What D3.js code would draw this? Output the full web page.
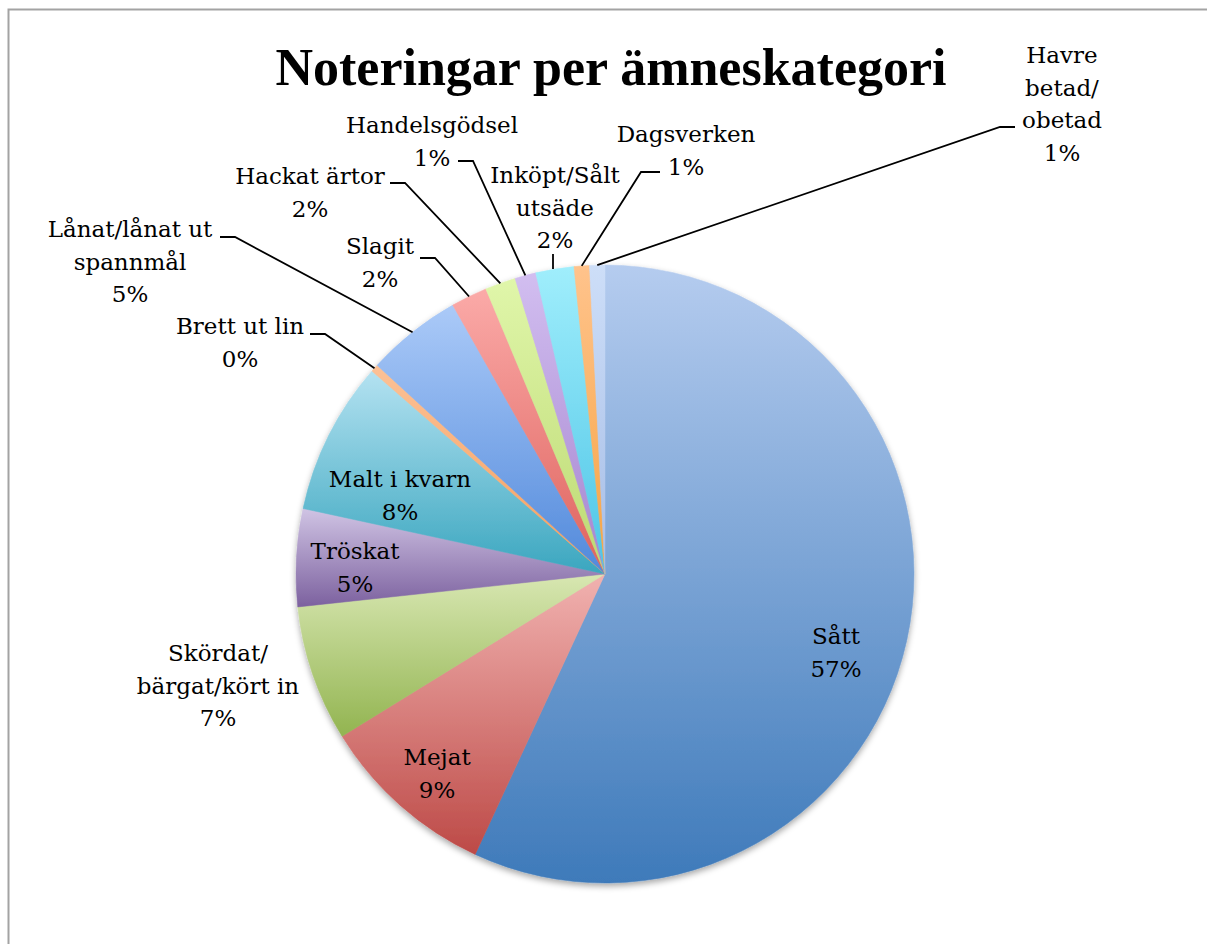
<!DOCTYPE html>
<html>
<head>
<meta charset="utf-8">
<script src="https://cdn.jsdelivr.net/npm/d3@7"></script>
<style>
  html, body { margin: 0; padding: 0; background: #fff; }
  svg { display: block; }
</style>
</head>
<body>
<svg id="chart" width="1207" height="944"></svg>
<script>
// ---- data ----
const title = "Noteringar per ämneskategori";
const categories = ["Sått", "Mejat", "Skördat/bärgat/kört in", "Tröskat", "Malt i kvarn", "Brett ut lin",
  "Lånat/lånat ut spannmål", "Slagit", "Hackat ärtor", "Handelsgödsel", "Inköpt/Sålt utsäde", "Dagsverken", "Havre betad/obetad"];
const values = [56.9, 9.3, 7.1, 5.1, 8.0, 0.4, 5.0, 1.9, 1.6, 1.1, 2.0, 0.8, 0.8];
const labelLines = [["Sått"], ["Mejat"], ["Skördat/", "bärgat/kört in"], ["Tröskat"], ["Malt i kvarn"], ["Brett ut lin"],
  ["Lånat/lånat ut", "spannmål"], ["Slagit"], ["Hackat ärtor"], ["Handelsgödsel"], ["Inköpt/Sålt", "utsäde"], ["Dagsverken"], ["Havre", "betad/", "obetad"]];
const colorsTop = ["#b5ccef", "#f1b2b0", "#d8e7b2", "#d0c4e4", "#b4e2f1", "#fcc196", "#abcaf8", "#fbaaa8", "#e0f6aa", "#d2bef0", "#a0eefc", "#ffc38c", "#cddef8"];
const colorsBot = ["#3e7aba", "#bd4a47", "#92b450", "#7c619f", "#3aa6bf", "#f59e5c", "#5189db", "#de625d", "#bcd972", "#a585cf", "#4cc4e6", "#f6a442", "#a6bde6"];

// ---- layout (label placement) ----
const labelLayout = [
  { x: 836, y: 644 },
  { x: 437, y: 765 },
  { x: 218, y: 661 },
  { x: 355, y: 559 },
  { x: 400, y: 487 },
  { x: 240, y: 334, leader: [[325, 334], [310, 334]] },
  { x: 130, y: 237, leader: [[235, 237], [220, 237]] },
  { x: 380, y: 254, leader: [[435, 258], [420, 258]] },
  { x: 310, y: 184, leader: [[405, 183], [390, 183]] },
  { x: 432, y: 133, leader: [[473, 161], [458, 161]] },
  { x: 555, y: 183, leader: [[553, 254]], straight: true },
  { x: 686, y: 142, leader: [[641, 172], [660, 172]] },
  { x: 1062, y: 63, leader: [[1000, 127], [1015, 127]] }
];

const W = 1207, H = 944;
const cx = 605, cy = 574, R = 309;
const lineH = 32.5;

const svg = d3.select("#chart");
const defs = svg.append("defs");

// border
svg.append("rect").attr("x", 8.5).attr("y", 9.5).attr("width", W + 20).attr("height", H + 20)
  .attr("fill", "none").attr("stroke", "#a3a3a3").attr("stroke-width", 2);

// title
svg.append("text").attr("x", 611).attr("y", 85).attr("text-anchor", "middle")
  .attr("font-family", "'Liberation Serif', 'DejaVu Serif', serif").attr("font-weight", "bold")
  .attr("font-size", 52).attr("fill", "#000").text(title);

// gradients
values.forEach((v, i) => {
  const g = defs.append("linearGradient").attr("id", "grad" + i)
    .attr("x1", 0).attr("y1", 0).attr("x2", 0).attr("y2", 1);
  g.append("stop").attr("offset", "0%").attr("stop-color", colorsTop[i]);
  g.append("stop").attr("offset", "100%").attr("stop-color", colorsBot[i]);
});

const shadow = defs.append("filter").attr("id", "shadow").attr("x", "-10%").attr("y", "-10%").attr("width", "120%").attr("height", "120%");
shadow.append("feDropShadow").attr("dx", 0).attr("dy", 3).attr("stdDeviation", 3)
  .attr("flood-color", "#000").attr("flood-opacity", 0.35);

const pie = d3.pie().sort(null).value(d => d).startAngle(0).endAngle(2 * Math.PI);
const arcs = pie(values);
const arc = d3.arc().innerRadius(0).outerRadius(R);
const edgeArc = d3.arc().innerRadius(R).outerRadius(R);

const g = svg.append("g").attr("transform", `translate(${cx},${cy})`);
g.append("g").attr("filter", "url(#shadow)")
  .selectAll("path").data(arcs).enter().append("path")
  .attr("d", arc)
  .attr("fill", (d, i) => `url(#grad${i})`)
  .attr("stroke", (d, i) => `url(#grad${i})`)
  .attr("stroke-width", 0.5);

// leader lines
arcs.forEach((d, i) => {
  const L = labelLayout[i];
  if (!L.leader) return;
  const [ex, ey] = edgeArc.centroid(d);
  const pts = [[cx + ex, cy + ey]].concat(L.leader);
  if (L.straight) pts[0] = [L.leader[0][0], cy + ey];
  svg.append("path")
    .attr("d", d3.line()(pts))
    .attr("fill", "none").attr("stroke", "#000").attr("stroke-width", 1.8);
});

// labels
const total = d3.sum(values);
arcs.forEach((d, i) => {
  const L = labelLayout[i];
  const lines = labelLines[i].concat([Math.round(values[i] / total * 100) + "%"]);
  const t = svg.append("text")
    .attr("text-anchor", "middle")
    .attr("font-family", "'DejaVu Serif', serif")
    .attr("font-size", 23).attr("fill", "#000");
  lines.forEach((ln, k) => {
    t.append("tspan").attr("x", L.x).attr("y", L.y + k * lineH).text(ln);
  });
});
</script>
</body>
</html>
